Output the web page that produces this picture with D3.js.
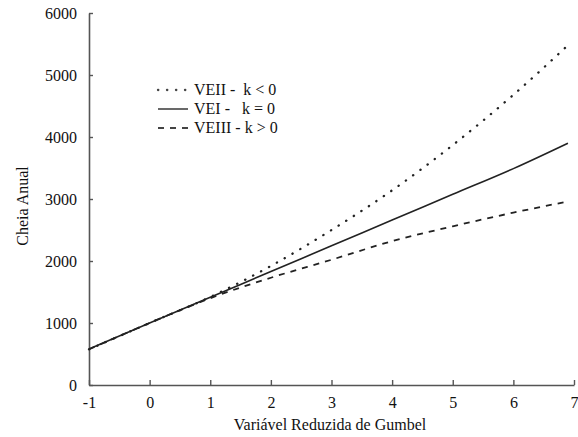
<!DOCTYPE html>
<html>
<head>
<meta charset="utf-8">
<script src="https://cdn.jsdelivr.net/npm/d3@7"></script>
<style>
  body { margin: 0; background: #fff; }
  svg { display: block; font-family: "Liberation Serif", "DejaVu Serif", serif; }
  svg text { font-family: "Liberation Serif", "DejaVu Serif", serif; }
</style>
</head>
<body>
<div id="chart"></div>
<script>
// Gumbel reduced variate (x) and annual flood (y)
const gumbelY = [-1, 0, 1, 2, 3, 4, 5, 6, 6.9];
const veii = [575, 1000, 1420, 1920, 2500, 3140, 3870, 4680, 5480];
const vei = [580, 1000, 1415, 1830, 2245, 2660, 3075, 3490, 3900];
const veiii = [575, 1000, 1400, 1730, 2020, 2320, 2560, 2780, 2960];
const xTicks = [-1, 0, 1, 2, 3, 4, 5, 6, 7];
const yTicks = [0, 1000, 2000, 3000, 4000, 5000, 6000];
const seriesNames = ['VEII -  k < 0', 'VEI -   k = 0', 'VEIII - k > 0'];

(function () {
  const W = 578, H = 437;
  const m = { top: 13, right: 4, bottom: 52, left: 89 };
  const svg = d3.select('#chart').append('svg').attr('width', W).attr('height', H);

  const x = d3.scaleLinear().domain([-1, 7]).range([m.left, W - m.right]);
  const y = d3.scaleLinear().domain([0, 6000]).range([H - m.bottom, m.top]);

  const axisColor = '#555';
  const xAxis = svg.append('g').attr('transform', `translate(0,${H - m.bottom})`)
    .call(d3.axisBottom(x).tickValues(xTicks).tickSizeInner(-5).tickSizeOuter(0).tickPadding(12).tickFormat((d) => String(d)));
  const yAxis = svg.append('g').attr('transform', `translate(${m.left},0)`)
    .call(d3.axisLeft(y).tickValues(yTicks).tickSizeInner(-4).tickSizeOuter(0).tickPadding(12).tickFormat((d) => String(d)));
  [xAxis, yAxis].forEach((a) => {
    a.attr('font-size', 16);
    a.select('.domain').attr('stroke', axisColor).attr('stroke-width', 1.6);
    a.selectAll('.tick line').attr('stroke', axisColor).attr('stroke-width', 1.4);
    a.selectAll('text').attr('fill', '#111');
  });

  svg.append('text').attr('x', 330).attr('y', 430).attr('text-anchor', 'middle')
    .attr('font-size', 16).attr('fill', '#111').text('Variável Reduzida de Gumbel');
  svg.append('text').attr('transform', 'translate(28,206) rotate(-90)').attr('text-anchor', 'middle')
    .attr('font-size', 16).attr('fill', '#111').text('Cheia Anual');

  const styles = [
    { data: veii, dash: '0.3,8.7', cap: 'round', w: 2.3 },
    { data: vei, dash: null, cap: 'butt', w: 1.6 },
    { data: veiii, dash: '6,6', cap: 'butt', w: 1.8 },
  ];
  const line = d3.line().x((d) => x(d[0])).y((d) => y(d[1])).curve(d3.curveMonotoneX);
  styles.forEach((s) => {
    svg.append('path').datum(gumbelY.map((g, i) => [g, s.data[i]]))
      .attr('fill', 'none').attr('stroke', '#222').attr('stroke-width', s.w)
      .attr('stroke-linecap', s.cap).attr('stroke-dasharray', s.dash).attr('d', line);
  });

  const lg = svg.append('g');
  seriesNames.forEach((name, i) => {
    const s = styles[i];
    const ly = 90 + i * 19;
    lg.append('line').attr('x1', 158).attr('x2', 188).attr('y1', ly).attr('y2', ly)
      .attr('stroke', '#444').attr('stroke-width', s.w).attr('stroke-linecap', s.cap).attr('stroke-dasharray', s.dash);
    lg.append('text').attr('x', 194).attr('y', ly + 5).attr('font-size', 16).attr('fill', '#111')
      .attr('xml:space', 'preserve').style('white-space', 'pre').text(name);
  });
})();
</script>
</body>
</html>
